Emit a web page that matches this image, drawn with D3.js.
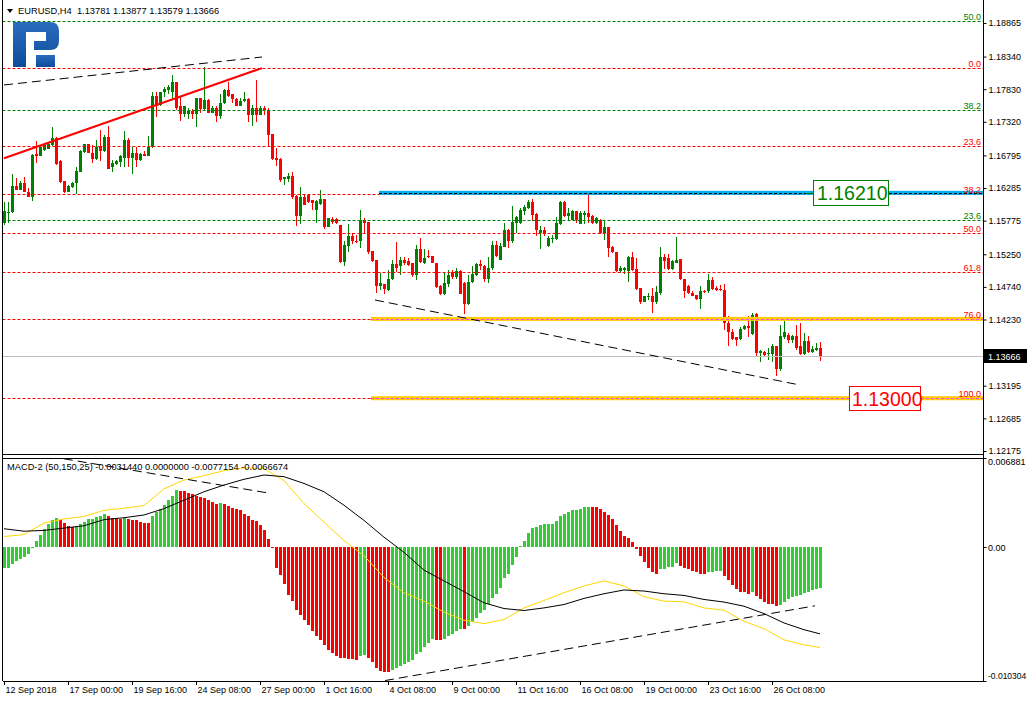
<!DOCTYPE html>
<html><head><meta charset="utf-8">
<script src="https://cdn.jsdelivr.net/npm/d3@7"></script>
<style>
html,body{margin:0;padding:0;background:#fff;overflow:hidden}
svg{display:block;font-family:"Liberation Sans",Arial,sans-serif}
</style></head><body>
<svg id="c" width="1027" height="702"></svg>
<script>
// ---------- DATA ----------
const symbolTitle = "EURUSD,H4  1.13781 1.13877 1.13579 1.13666";
const macdTitle = "MACD-2 (50,150,25) -0.0031440 0.0000000 -0.0077154 -0.0066674";
const opens = [1.1574,1.1589,1.1591,1.1631,1.1626,1.1636,1.1623,1.1615,1.1681,1.1678,
1.1688,1.1690,1.1696,1.1706,1.1670,1.1639,1.1622,1.1630,1.1637,1.1654,
1.1685,1.1697,1.1683,1.1674,1.1694,1.1687,1.1708,1.1661,1.1666,1.1669,
1.1675,1.1704,1.1676,1.1684,1.1673,1.1682,1.1679,1.1692,1.1772,1.1758,
1.1778,1.1781,1.1778,1.1794,1.1757,1.1744,1.1744,1.1749,1.1744,1.1769,
1.1752,1.1766,1.1746,1.1754,1.1741,1.1761,1.1782,1.1775,1.1767,1.1757,
1.1764,1.1768,1.1742,1.1754,1.1742,1.1754,1.1750,1.1713,1.1675,1.1674,
1.1642,1.1642,1.1647,1.1616,1.1585,1.1615,1.1618,1.1610,1.1594,1.1604,
1.1611,1.1568,1.1580,1.1580,1.1571,1.1513,1.1538,1.1553,1.1546,1.1545,
1.1579,1.1575,1.1530,1.1516,1.1475,1.1479,1.1469,1.1487,1.1510,1.1506,
1.1516,1.1515,1.1511,1.1492,1.1533,1.1512,1.1523,1.1522,1.1512,1.1475,
1.1463,1.1479,1.1498,1.1489,1.1499,1.1480,1.1448,1.1481,1.1493,1.1510,
1.1507,1.1486,1.1503,1.1539,1.1516,1.1537,1.1563,1.1546,1.1574,1.1574,
1.1593,1.1597,1.1607,1.1588,1.1558,1.1563,1.1538,1.1549,1.1549,1.1573,
1.1607,1.1585,1.1579,1.1592,1.1573,1.1587,1.1589,1.1585,1.1574,1.1579,
1.1559,1.1567,1.1537,1.1529,1.1499,1.1500,1.1499,1.1520,1.1502,1.1472,
1.1451,1.1458,1.1460,1.1450,1.1464,1.1520,1.1519,1.1502,1.1512,1.1517,
1.1487,1.1475,1.1465,1.1461,1.1455,1.1468,1.1467,1.1484,1.1473,1.1470,
1.1469,1.1417,1.1404,1.1395,1.1392,1.1408,1.1413,1.1400,1.1432,1.1370,
1.1373,1.1369,1.1369,1.1381,1.1345,1.1396,1.1399,1.1391,1.1397,1.1381,
1.1369,1.1390,1.1373,1.1375,1.13781];
const highs = [1.1607,1.1607,1.1650,1.1644,1.1639,1.1645,1.1628,1.1681,1.1702,1.1696,
1.1698,1.1701,1.1724,1.1709,1.1673,1.1639,1.1633,1.1638,1.1661,1.1688,
1.1698,1.1698,1.1696,1.1704,1.1719,1.1711,1.1725,1.1672,1.1672,1.1680,
1.1717,1.1706,1.1692,1.1693,1.1683,1.1686,1.1710,1.1778,1.1778,1.1779,
1.1787,1.1790,1.1805,1.1795,1.1771,1.1757,1.1754,1.1752,1.1769,1.1770,
1.1817,1.1767,1.1757,1.1756,1.1776,1.1783,1.1795,1.1776,1.1770,1.1769,
1.1778,1.1770,1.1758,1.1798,1.1756,1.1756,1.1753,1.1713,1.1691,1.1675,
1.1645,1.1652,1.1653,1.1618,1.1630,1.1619,1.1619,1.1610,1.1610,1.1625,
1.1611,1.1581,1.1583,1.1581,1.1571,1.1545,1.1572,1.1558,1.1555,1.1594,
1.1581,1.1575,1.1530,1.1516,1.1496,1.1479,1.1500,1.1516,1.1544,1.1520,
1.1521,1.1519,1.1511,1.1539,1.1550,1.1533,1.1531,1.1522,1.1512,1.1477,
1.1498,1.1500,1.1500,1.1504,1.1500,1.1481,1.1493,1.1506,1.1511,1.1516,
1.1508,1.1520,1.1545,1.1545,1.1542,1.1574,1.1564,1.1600,1.1585,1.1597,
1.1602,1.1610,1.1611,1.1589,1.1569,1.1567,1.1553,1.1555,1.1584,1.1609,
1.1609,1.1597,1.1594,1.1593,1.1592,1.1592,1.1622,1.1586,1.1583,1.1580,
1.1579,1.1567,1.1538,1.1529,1.1507,1.1505,1.1522,1.1528,1.1519,1.1472,
1.1460,1.1464,1.1472,1.1475,1.1537,1.1525,1.1525,1.1516,1.1552,1.1517,
1.1487,1.1477,1.1467,1.1462,1.1475,1.1469,1.1494,1.1490,1.1475,1.1477,
1.1478,1.1428,1.1408,1.1396,1.1412,1.1415,1.1429,1.1433,1.1433,1.1376,
1.1374,1.1378,1.1385,1.1381,1.1415,1.1422,1.1402,1.1399,1.1415,1.1417,
1.1402,1.1397,1.1381,1.1387,1.13877];
const lows = [1.1571,1.1574,1.1589,1.1626,1.1625,1.1623,1.1615,1.1609,1.1668,1.1678,
1.1687,1.1689,1.1694,1.1664,1.1637,1.1621,1.1622,1.1628,1.1619,1.1653,
1.1684,1.1683,1.1667,1.1672,1.1670,1.1685,1.1658,1.1653,1.1664,1.1662,
1.1662,1.1662,1.1651,1.1661,1.1671,1.1678,1.1678,1.1691,1.1740,1.1757,
1.1771,1.1776,1.1770,1.1751,1.1734,1.1740,1.1737,1.1737,1.1724,1.1745,
1.1750,1.1745,1.1745,1.1731,1.1737,1.1760,1.1771,1.1761,1.1757,1.1756,
1.1763,1.1732,1.1726,1.1732,1.1742,1.1742,1.1694,1.1672,1.1663,1.1638,
1.1633,1.1638,1.1612,1.1569,1.1572,1.1602,1.1605,1.1594,1.1574,1.1602,
1.1564,1.1567,1.1573,1.1573,1.1512,1.1506,1.1529,1.1541,1.1542,1.1534,
1.1558,1.1526,1.1513,1.1464,1.1469,1.1463,1.1467,1.1485,1.1498,1.1493,
1.1508,1.1506,1.1490,1.1484,1.1512,1.1510,1.1519,1.1511,1.1473,1.1461,
1.1461,1.1474,1.1487,1.1487,1.1463,1.1432,1.1446,1.1480,1.1491,1.1500,
1.1482,1.1480,1.1501,1.1521,1.1516,1.1536,1.1535,1.1543,1.1558,1.1572,
1.1586,1.1595,1.1577,1.1553,1.1533,1.1553,1.1537,1.1543,1.1547,1.1571,
1.1584,1.1579,1.1578,1.1574,1.1572,1.1573,1.1574,1.1572,1.1572,1.1557,
1.1547,1.1521,1.1527,1.1498,1.1495,1.1494,1.1482,1.1499,1.1469,1.1448,
1.1450,1.1454,1.1433,1.1448,1.1461,1.1502,1.1500,1.1500,1.1511,1.1485,
1.1456,1.1463,1.1459,1.1454,1.1439,1.1464,1.1465,1.1469,1.1467,1.1467,
1.1407,1.1381,1.1391,1.1381,1.1391,1.1407,1.1395,1.1399,1.1364,1.1356,
1.1366,1.1360,1.1357,1.1335,1.1343,1.1392,1.1386,1.1386,1.1375,1.1368,
1.1368,1.1370,1.1370,1.1374,1.13579];
const closes = [1.1592,1.1591,1.1631,1.1626,1.1637,1.1623,1.1615,1.1680,1.1678,1.1692,
1.1696,1.1698,1.1706,1.1666,1.1638,1.1623,1.1631,1.1637,1.1655,1.1687,
1.1697,1.1683,1.1674,1.1692,1.1687,1.1709,1.1659,1.1667,1.1670,1.1678,
1.1704,1.1676,1.1684,1.1673,1.1682,1.1679,1.1692,1.1772,1.1757,1.1778,
1.1784,1.1786,1.1794,1.1754,1.1744,1.1756,1.1749,1.1744,1.1769,1.1752,
1.1766,1.1746,1.1753,1.1741,1.1761,1.1781,1.1773,1.1767,1.1757,1.1765,
1.1768,1.1742,1.1754,1.1742,1.1754,1.1750,1.1711,1.1674,1.1672,1.1641,
1.1645,1.1648,1.1614,1.1585,1.1615,1.1602,1.1607,1.1605,1.1609,1.1612,
1.1568,1.1581,1.1576,1.1574,1.1513,1.1539,1.1553,1.1546,1.1545,1.1579,
1.1574,1.1528,1.1514,1.1475,1.1480,1.1470,1.1487,1.1510,1.1503,1.1516,
1.1512,1.1508,1.1492,1.1533,1.1513,1.1519,1.1521,1.1512,1.1474,1.1463,
1.1480,1.1493,1.1489,1.1499,1.1463,1.1448,1.1481,1.1494,1.1510,1.1506,
1.1486,1.1504,1.1539,1.1522,1.1538,1.1563,1.1546,1.1576,1.1584,1.1594,
1.1599,1.1607,1.1586,1.1563,1.1563,1.1557,1.1550,1.1551,1.1574,1.1607,
1.1585,1.1589,1.1592,1.1579,1.1589,1.1590,1.1584,1.1574,1.1581,1.1558,
1.1567,1.1535,1.1528,1.1499,1.1504,1.1504,1.1520,1.1500,1.1471,1.1450,
1.1459,1.1460,1.1450,1.1466,1.1520,1.1515,1.1502,1.1514,1.1516,1.1486,
1.1468,1.1464,1.1460,1.1455,1.1468,1.1467,1.1484,1.1471,1.1469,1.1469,
1.1417,1.1404,1.1393,1.1391,1.1408,1.1413,1.1410,1.1430,1.1371,1.1374,
1.1368,1.1370,1.1381,1.1345,1.1397,1.1404,1.1391,1.1397,1.1379,1.1369,
1.1390,1.1373,1.1377,1.1379,1.13666];
const histValues = [-0.00162,-0.00160,-0.00130,-0.00109,-0.00091,-0.00073,-0.00052,-0.00008,0.00047,0.00098,
0.00143,0.00181,0.00213,0.00228,0.00213,0.00187,0.00161,0.00156,0.00161,0.00176,
0.00194,0.00218,0.00220,0.00233,0.00244,0.00257,0.00244,0.00228,0.00223,0.00218,
0.00225,0.00218,0.00213,0.00207,0.00197,0.00189,0.00187,0.00238,0.00272,0.00298,
0.00329,0.00368,0.00399,0.00441,0.00435,0.00430,0.00422,0.00410,0.00399,0.00389,
0.00376,0.00363,0.00347,0.00337,0.00345,0.00332,0.00319,0.00306,0.00295,0.00285,
0.00259,0.00238,0.00213,0.00200,0.00168,0.00135,0.00065,-0.00008,-0.00156,-0.00213,
-0.00285,-0.00368,-0.00415,-0.00480,-0.00518,-0.00557,-0.00596,-0.00648,-0.00687,-0.00713,
-0.00752,-0.00791,-0.00816,-0.00835,-0.00850,-0.00855,-0.00861,-0.00863,-0.00866,-0.00835,
-0.00829,-0.00850,-0.00886,-0.00928,-0.00954,-0.00959,-0.00962,-0.00946,-0.00933,-0.00912,
-0.00899,-0.00881,-0.00868,-0.00824,-0.00804,-0.00770,-0.00739,-0.00708,-0.00713,-0.00715,
-0.00708,-0.00687,-0.00669,-0.00643,-0.00627,-0.00630,-0.00609,-0.00578,-0.00544,-0.00505,
-0.00480,-0.00437,-0.00394,-0.00358,-0.00311,-0.00238,-0.00202,-0.00137,-0.00078,0.00013,
0.00047,0.00109,0.00150,0.00156,0.00168,0.00179,0.00180,0.00181,0.00202,0.00238,
0.00259,0.00272,0.00285,0.00290,0.00298,0.00311,0.00312,0.00311,0.00309,0.00295,
0.00275,0.00249,0.00218,0.00171,0.00124,0.00088,0.00070,0.00039,-0.00016,-0.00067,
-0.00117,-0.00156,-0.00187,-0.00207,-0.00168,-0.00167,-0.00150,-0.00149,-0.00124,-0.00143,
-0.00156,-0.00168,-0.00181,-0.00194,-0.00202,-0.00203,-0.00189,-0.00187,-0.00186,-0.00185,
-0.00218,-0.00254,-0.00293,-0.00324,-0.00342,-0.00345,-0.00358,-0.00342,-0.00376,-0.00402,
-0.00420,-0.00435,-0.00436,-0.00456,-0.00441,-0.00420,-0.00402,-0.00384,-0.00378,-0.00368,
-0.00355,-0.00347,-0.00330,-0.00323,-0.00314];
const lineIdx = [0,5,10,15,20,25,30,35,40,45,50,55,60,65,70,75,80,85,90,95,100,
105,110,115,120,125,130,135,140,145,150,155,160,165,170,175,180,185,190,195,200,204];
const yellowLine = [0.00083,0.00098,0.00187,0.00218,0.00238,0.00285,0.00301,0.00321,0.00451,0.00518,
0.00552,0.00591,0.00612,0.00607,0.00513,0.00337,0.00194,0.00052,-0.00065,-0.00233,
-0.00350,-0.00415,-0.00500,-0.00562,-0.00588,-0.00557,-0.00467,-0.00410,-0.00350,-0.00298,
-0.00259,-0.00298,-0.00381,-0.00415,-0.00420,-0.00467,-0.00485,-0.00570,-0.00627,-0.00713,
-0.00752,-0.00772];
const blackLine = [0.00143,0.00124,0.00130,0.00148,0.00166,0.00213,0.00228,0.00249,0.00298,0.00363,
0.00428,0.00480,0.00524,0.00557,0.00544,0.00492,0.00428,0.00324,0.00207,0.00078,
-0.00039,-0.00176,-0.00259,-0.00342,-0.00428,-0.00472,-0.00487,-0.00467,-0.00441,-0.00394,
-0.00358,-0.00329,-0.00337,-0.00358,-0.00371,-0.00402,-0.00422,-0.00454,-0.00511,-0.00583,
-0.00635,-0.00667];
const timeTickIdx = [0,16,32,48,64,80,96,112,128,144,160,176,192];
const timeTickLabels = ["12 Sep 2018","17 Sep 00:00","19 Sep 16:00","24 Sep 08:00","27 Sep 00:00","1 Oct 16:00","4 Oct 08:00","9 Oct 00:00","11 Oct 16:00","16 Oct 08:00","19 Oct 00:00","23 Oct 16:00","26 Oct 08:00"];
const priceTicks = [1.18865,1.18340,1.17830,1.17320,1.16795,1.16285,1.15775,1.15250,1.14740,1.14230,1.13195,1.12685,1.12175];
const redFibLabels = ["0.0","23.6","38.2","50.0","61.8","76.0","100.0"];
const redFibPrices = [1.18162,1.16944,1.16190,1.15581,1.14972,1.14239,1.13000];
const greenFibLabels = ["23.6","38.2","50.0"];
const greenFibPrices = [1.15786,1.17505,1.18896];
const lastPrice = 1.13666;
const blueLevel = {label:"1.16210", price:1.16210, fromIdx:93.75};
const yellowLevels = [{price:1.14239, fromIdx:91.75},{price:1.13000, fromIdx:91.75}];
const redLevelLabel = {label:"1.13000", price:1.13000};
const redTrend = [{i:0,p:1.1675},{i:64.5,p:1.1816}];
const blackTrendTop = [{i:0,p:1.17896},{i:64.5,p:1.18333}];
const blackTrendLow = [{i:92.75,p:1.14535},{i:199,p:1.13206}];
const macdTrendTop = [{i:11.5,v:0.00700},{i:65.75,v:0.00420}];
const macdTrendLow = [{i:95.25,v:-0.01027},{i:202.75,v:-0.00451}];
const macdTicks = [{v:0.006881,t:"0.006881"},{v:0,t:"0.00"},{v:-0.010304,t:"-0.010304"}];

// ---------- LAYOUT ----------
const L = 2.5, R = 983.5, mainTop = 0, mainBot = 454, mTop = 458, mBot = 681;
const svg = d3.select("#c");
const x = d3.scaleLinear().domain([0, 204]).range([4, 820]);
const yP = d3.scaleLinear().domain([1.12128, 1.19224]).range([mainBot, mainTop]);
const yM = d3.scaleLinear().domain([-0.010304, 0.006881]).range([mBot, mTop]);
const GREEN = "#008000", RED = "#ff0000";

const defs = svg.append("defs");
defs.append("clipPath").attr("id","cm").append("rect").attr("x",3).attr("y",0).attr("width",980).attr("height",mainBot);
defs.append("clipPath").attr("id","cd").append("rect").attr("x",3).attr("y",mTop+1).attr("width",980).attr("height",mBot-mTop-1);
const lg = defs.append("linearGradient").attr("id","lg").attr("x1",0).attr("y1",0).attr("x2",0).attr("y2",1);
lg.append("stop").attr("offset",0).attr("stop-color","#2a6cc0");
lg.append("stop").attr("offset",1).attr("stop-color","#0c4c98");

const main = svg.append("g").attr("clip-path","url(#cm)");
const macd = svg.append("g").attr("clip-path","url(#cd)");

// logo
const logo = main.append("g").attr("fill","url(#lg)");
logo.append("path").attr("d","M13,22 H50 Q59,22 59,31 V41 Q59,50 50,50 H34 V41 H46 V32 H26 V67 H13 Z");
logo.append("path").attr("d","M36,55 H55 V67 H36 Z");

// candles
const px = i => Math.round(x(i));
const cg = main.append("g").attr("shape-rendering","crispEdges");
d3.range(opens.length).forEach(i => {
  const up = closes[i] >= opens[i];
  const col = up ? GREEN : RED;
  const yh = Math.round(yP(highs[i])), yl = Math.round(yP(lows[i]));
  cg.append("rect").attr("x",px(i)).attr("y",yh).attr("width",1).attr("height",Math.max(1,yl-yh)).attr("fill",col);
  const yt = Math.round(yP(Math.max(opens[i],closes[i]))), yb = Math.round(yP(Math.min(opens[i],closes[i])));
  cg.append("rect").attr("x",px(i)-1).attr("y",yt).attr("width",3).attr("height",Math.max(1,yb-yt)).attr("fill",col);
});

// current price line
main.append("line").attr("x1",L).attr("x2",R).attr("y1",Math.round(yP(lastPrice))+0.5).attr("y2",Math.round(yP(lastPrice))+0.5)
  .attr("stroke","#c0c0c0").attr("stroke-width",1);

// fib lines
const fy = p => Math.round(yP(p)) + 0.5;
redFibPrices.forEach((p,k) => {
  main.append("line").attr("x1",L).attr("x2",R).attr("y1",fy(p)).attr("y2",fy(p)).attr("stroke",RED).attr("stroke-dasharray","3,2");
  svg.append("text").attr("x",981).attr("y",fy(p)-2).attr("text-anchor","end").attr("font-size",9).attr("fill",RED).text(redFibLabels[k]);
});
greenFibPrices.forEach((p,k) => {
  main.append("line").attr("x1",L).attr("x2",R).attr("y1",fy(p)).attr("y2",fy(p)).attr("stroke",GREEN).attr("stroke-dasharray","3,2");
  svg.append("text").attr("x",981).attr("y",fy(p)-2).attr("text-anchor","end").attr("font-size",9).attr("fill",GREEN).text(greenFibLabels[k]);
});

// thick horizontal levels
main.append("rect").attr("x",x(blueLevel.fromIdx)).attr("y",yP(blueLevel.price)-2).attr("width",R-x(blueLevel.fromIdx)).attr("height",4).attr("fill","#00b0f0");
main.append("line").attr("x1",x(blueLevel.fromIdx)).attr("x2",R).attr("y1",fy(blueLevel.price)).attr("y2",fy(blueLevel.price)).attr("stroke","#000").attr("stroke-dasharray","3,2");
yellowLevels.forEach(d => {
  main.append("rect").attr("x",x(d.fromIdx)).attr("y",yP(d.price)-2).attr("width",R-x(d.fromIdx)).attr("height",4).attr("fill","#ffcc00");
  main.append("line").attr("x1",x(d.fromIdx)).attr("x2",R).attr("y1",fy(d.price)).attr("y2",fy(d.price)).attr("stroke","#ff40ff").attr("stroke-dasharray","3,2");
});

// trend lines
const tl = (a, dash, col, w) => main.append("line").attr("x1",x(a[0].i)).attr("y1",yP(a[0].p)).attr("x2",x(a[1].i)).attr("y2",yP(a[1].p))
  .attr("stroke",col).attr("stroke-width",w).attr("stroke-dasharray",dash);
tl(blackTrendTop,"9,5","#000",1);
tl(blackTrendLow,"9,5","#000",1);
tl(redTrend,null,RED,2);

// price boxes
const by = Math.round(yP(blueLevel.price));
svg.append("line").attr("x1",805).attr("x2",814).attr("y1",by+0.5).attr("y2",by+0.5).attr("stroke",GREEN);
svg.append("rect").attr("x",813.5).attr("y",by-12.5).attr("width",75).attr("height",25).attr("fill","#fff").attr("stroke",GREEN);
svg.append("text").attr("x",817).attr("y",by+7).attr("font-size",19.5).attr("fill",GREEN).text(blueLevel.label);
const ry = Math.round(yP(redLevelLabel.price));
svg.append("rect").attr("x",849.5).attr("y",ry-11.5).attr("width",71).attr("height",24).attr("fill","#fff").attr("stroke",RED);
svg.append("text").attr("x",852).attr("y",ry+8).attr("font-size",19.5).attr("fill",RED).text(redLevelLabel.label);

// MACD histogram
const hg = macd.append("g").attr("shape-rendering","crispEdges");
histValues.forEach((v,i) => {
  const up = i === 0 || v > histValues[i-1];
  const y0 = Math.round(yM(0)), y1 = Math.round(yM(v));
  hg.append("rect").attr("x",px(i)-1).attr("y",Math.min(y0,y1)).attr("width",3).attr("height",Math.max(1,Math.abs(y1-y0)))
    .attr("fill", up ? "#32cd32" : RED);
});
const ml = d3.line().x((d,k)=>x(lineIdx[k])).y(d=>yM(d));
macd.append("path").attr("d",ml(yellowLine)).attr("fill","none").attr("stroke","#ffd700").attr("stroke-width",1);
macd.append("path").attr("d",ml(blackLine)).attr("fill","none").attr("stroke","#000").attr("stroke-width",1);
[macdTrendTop, macdTrendLow].forEach(a => macd.append("line").attr("x1",x(a[0].i)).attr("y1",yM(a[0].v)).attr("x2",x(a[1].i)).attr("y2",yM(a[1].v))
  .attr("stroke","#000").attr("stroke-dasharray","9,5"));

// frames
const fr = svg.append("g").attr("stroke","#000").attr("shape-rendering","crispEdges");
fr.append("line").attr("x1",L).attr("x2",L).attr("y1",0).attr("y2",mBot);
fr.append("line").attr("x1",R).attr("x2",R).attr("y1",0).attr("y2",mBot+1);
fr.append("line").attr("x1",L).attr("x2",R).attr("y1",mainBot+0.5).attr("y2",mainBot+0.5);
fr.append("line").attr("x1",L).attr("x2",R).attr("y1",mTop+0.5).attr("y2",mTop+0.5);
fr.append("line").attr("x1",L).attr("x2",R).attr("y1",mBot+0.5).attr("y2",mBot+0.5);

// right price axis
const pa = svg.append("g").attr("transform",`translate(${R},0)`)
  .call(d3.axisRight(yP).tickValues(priceTicks).tickSize(3).tickFormat(d3.format(".5f")));
pa.select(".domain").remove();
pa.selectAll("text").attr("font-size",9).attr("font-family","Liberation Sans, Arial, sans-serif").attr("fill","#000").attr("x",5);
pa.selectAll("line").attr("stroke","#000");
// last price label
const ly = Math.round(yP(lastPrice));
svg.append("rect").attr("x",984).attr("y",ly-7).attr("width",43).attr("height",14).attr("fill","#000");
svg.append("text").attr("x",988).attr("y",ly+3.5).attr("font-size",9).attr("fill","#fff").text(d3.format(".5f")(lastPrice));

// MACD axis
macdTicks.forEach((d,k) => {
  const yy = Math.round(yM(d.v));
  svg.append("line").attr("x1",R).attr("x2",R+3).attr("y1",yy+0.5).attr("y2",yy+0.5).attr("stroke","#000");
  const ty = k === 0 ? yy + 7 : (k === 2 ? yy - 2 : yy + 3.5);
  svg.append("text").attr("x",988).attr("y",ty).attr("font-size",k === 2 ? 8.5 : 9).attr("fill","#000").text(d.t);
});

// time axis
const ta = svg.append("g").attr("transform",`translate(0,${mBot})`)
  .call(d3.axisBottom(x).tickValues(timeTickIdx).tickSize(4).tickFormat((d,k)=>timeTickLabels[k]));
ta.select(".domain").remove();
ta.selectAll("line").attr("stroke","#000");
ta.selectAll("text").attr("font-size",9).attr("font-family","Liberation Sans, Arial, sans-serif").attr("fill","#000")
  .attr("text-anchor","start").attr("dx",1).attr("y",6);

// titles
svg.append("path").attr("d","M7,9 L13,9 L10,13 Z").attr("fill","#000");
svg.append("text").attr("x",18).attr("y",14).attr("font-size",9.3).attr("fill","#000").attr("xml:space","preserve").text(symbolTitle);
svg.append("text").attr("x",7).attr("y",470).attr("font-size",9.3).attr("fill","#000").text(macdTitle);
</script>
</body></html>
